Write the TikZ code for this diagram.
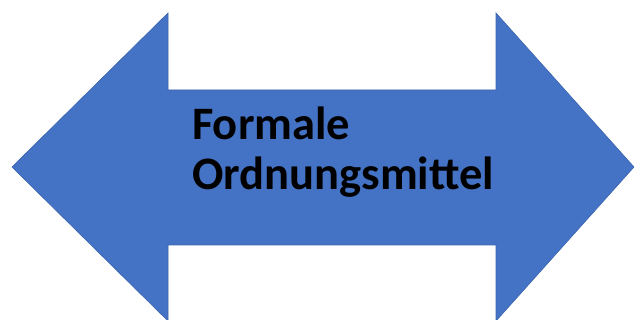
\documentclass[tikz,border=0pt]{standalone}
\usepackage{fontspec}
\setmainfont{Carlito}
\usepackage{tikz}
\definecolor{arrowblue}{RGB}{68, 114, 196}
\definecolor{arrowedge}{RGB}{60, 100, 175}

\begin{document}
\begin{tikzpicture}[
  x=1pt, y=1pt,
  every node/.style={font=\fontsize{46.5}{50}\selectfont\bfseries},
  bigarrow/.style={fill=arrowblue, draw=arrowedge, line width=0.6pt, line join=miter},
  label/.style={anchor=base west, inner sep=0pt, text=black},
]
\useasboundingbox (0,0) rectangle (640,320);

% double-headed block arrow
\draw[bigarrow] (12,153) -- (168,307) -- (168,230) -- (496,230) -- (496,307)
  -- (634,153) -- (496,-1) -- (496,75) -- (168,75) -- (168,-1) -- cycle;

% caption
\node[label] (formale) at (192,180) {Formale};
\node[label] (ordnung) at (192,130) {Ordnungsmittel};

\end{tikzpicture}
\end{document}
